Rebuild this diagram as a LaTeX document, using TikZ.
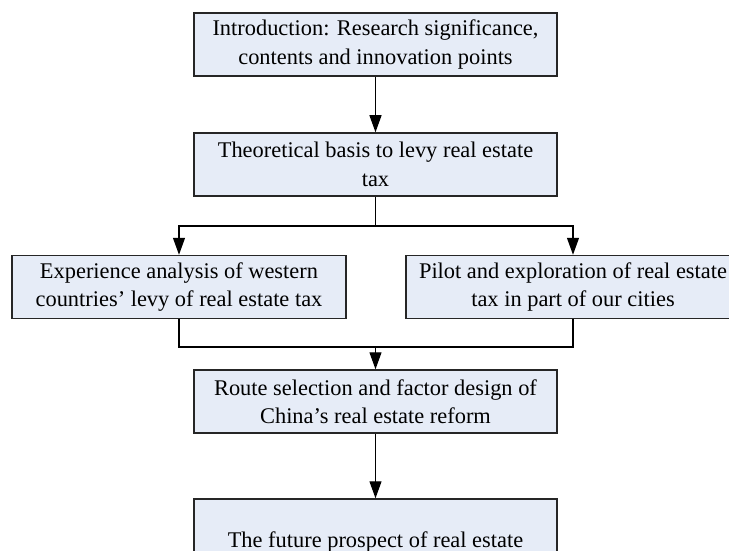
\documentclass[tikz,border=0pt]{standalone}
\usepackage{fontspec}
\setmainfont{Liberation Serif}
\usetikzlibrary{arrows.meta}
\definecolor{boxfill}{RGB}{230,236,247}
\begin{document}
\begin{tikzpicture}[x=1pt,y=-1pt,
  box/.style={draw=black!85, line width=1.5pt, fill=boxfill, minimum height=63pt, align=center, font=\fontsize{22.4}{28.5}\selectfont, inner sep=0pt},
  cbox/.style={box, minimum width=363pt},
  sbox/.style={box, minimum width=334pt},
  conn/.style={line width=1.2pt, draw=black},
  arr/.style={conn, -{Triangle[width=12pt,length=17pt]}}]
\useasboundingbox (0,0) rectangle (729,551);
\clip (0,0) rectangle (729,551);
\node[cbox] (intro) at (375.5,44.5) {Introduction: Research significance,\\contents and innovation points};
\node[cbox] (theory) at (375.5,164.5) {Theoretical basis to levy real estate\\tax};
\node[sbox] (west) at (179,287) {Experience analysis of western\\countries’ levy of real estate tax};
\node[sbox] (pilot) at (573,287) {Pilot and exploration of real estate\\tax in part of our cities};
\node[cbox] (route) at (375.5,401.5) {Route selection and factor design of\\China’s real estate reform};
\node[cbox, minimum height=85pt] (future) at (375.5,541.5) {The future prospect of real estate};
\coordinate (split) at (375.5,226);
\coordinate (merge) at (375.5,347);
\draw[arr] (intro) -- (theory);
\draw[conn] (theory.south) -- (split);
\draw[arr] (split) -| (west.north);
\draw[arr] (split) -| (pilot.north);
\draw[conn] (west.south) |- (merge);
\draw[conn] (pilot.south) |- (merge);
\draw[arr] (merge) -- (route.north);
\draw[arr] (route) -- (future);
\end{tikzpicture}
\end{document}
